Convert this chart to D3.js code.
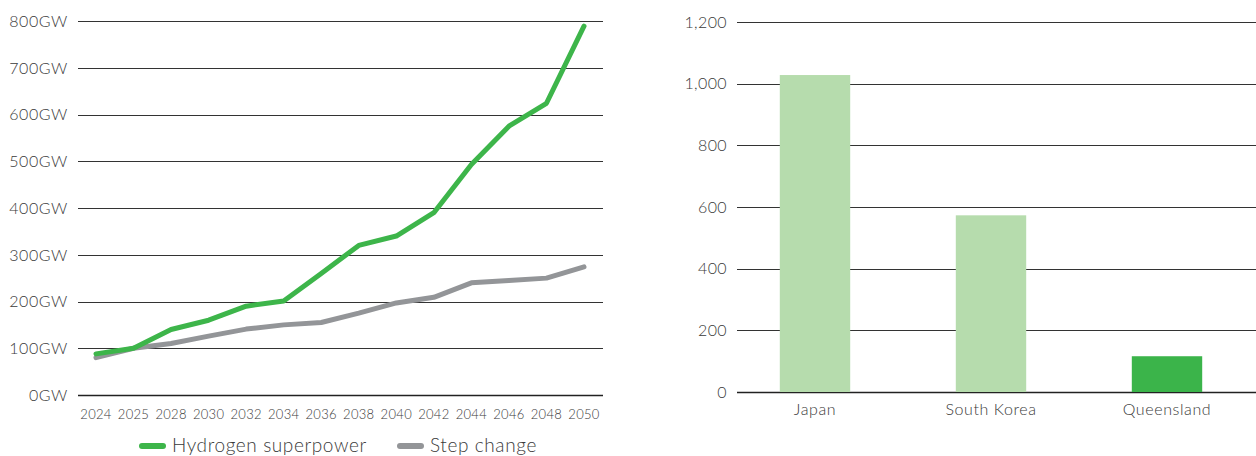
<!DOCTYPE html>
<html><head><meta charset="utf-8">
<script src="https://cdn.jsdelivr.net/npm/d3@7"></script>
<style>body{margin:0;background:#fff;}svg{display:block;font-family:Lato,"Open Sans",sans-serif;font-weight:300;}</style>
</head><body>
<svg id="c" width="1256" height="456"></svg>
<script>
const years = ["2024","2025","2028","2030","2032","2034","2036","2038","2040","2042","2044","2046","2048","2050"];
const hydrogen = [88,100,140,160,190,201,260,320,340,390,493,575,624,789];
const stepChange = [80,100,110,126,141,150,155,175,197,209,240,245,250,274];
const lineTicks = [0,100,200,300,400,500,600,700,800];
const seriesNames = ["Hydrogen superpower","Step change"];
const seriesColors = ["#3db54a","#939598"];

const countries = ["Japan","South Korea","Queensland"];
const countryValues = [1028,573,116];
const barColors = ["#b6dcad","#b6dcad","#3bb44a"];
const barTicks = [0,200,400,600,800,1000,1200];

const svg = d3.select("#c");
const textCol = "#3a3a3a";

// ---- Left line chart ----
const L = {x0:78, x1:603, y0:395, y1:21};
const yL = d3.scaleLinear().domain([0,800]).range([L.y0,L.y1]);
const xL = d3.scalePoint().domain(years).range([96,584]);
const gl = svg.append("g");
gl.selectAll("line.grid").data(lineTicks).join("line")
  .attr("x1",L.x0).attr("x2",L.x1)
  .attr("y1",d=>Math.round(yL(d))+0.5).attr("y2",d=>Math.round(yL(d))+0.5)
  .attr("stroke",d=>d===0?"#222":"#333").attr("stroke-width",d=>d===0?1.6:1);
gl.selectAll("text.yl").data(lineTicks).join("text")
  .attr("x",68).attr("y",d=>yL(d)).attr("dy","0.36em").attr("text-anchor","end")
  .attr("font-size",16).attr("letter-spacing",0.6).attr("fill",textCol).text(d=>d+"GW");
gl.selectAll("text.xl").data(years).join("text")
  .attr("x",d=>xL(d)).attr("y",414).attr("dy","0.36em").attr("text-anchor","middle")
  .attr("font-size",13).attr("letter-spacing",0.3).attr("fill",textCol).text(d=>d);
const line = d3.line().x((d,i)=>xL(years[i])).y(d=>yL(d));
[stepChange, hydrogen].forEach((s,k)=>{
  gl.append("path").attr("d",line(s)).attr("fill","none")
    .attr("stroke", k===1?seriesColors[0]:seriesColors[1]).attr("stroke-width",5)
    .attr("stroke-linejoin","round").attr("stroke-linecap","round");
});
// legend
const legX = [140,398];
seriesNames.forEach((n,i)=>{
  gl.append("line").attr("x1",legX[i]+2).attr("x2",legX[i]+23).attr("y1",446).attr("y2",446)
    .attr("stroke",seriesColors[i]).attr("stroke-width",6).attr("stroke-linecap","round");
  gl.append("text").attr("x",legX[i]+32).attr("y",446).attr("dy","0.34em")
    .attr("font-size",19).attr("letter-spacing",0.6).attr("fill",textCol).text(n);
});

// ---- Right bar chart ----
const R = {x0:737, x1:1256, y0:392, y1:22};
const yR = d3.scaleLinear().domain([0,1200]).range([R.y0,R.y1]);
const xR = d3.scaleBand().domain(countries).range([727,1255]).paddingInner(0.6).paddingOuter(0.3);
const gr = svg.append("g");
gr.selectAll("line.grid").data(barTicks).join("line")
  .attr("x1",R.x0).attr("x2",R.x1)
  .attr("y1",d=>Math.round(yR(d))+0.5).attr("y2",d=>Math.round(yR(d))+0.5)
  .attr("stroke",d=>d===0?"#222":"#333").attr("stroke-width",d=>d===0?1.6:1);
gr.selectAll("rect").data(countries).join("rect")
  .attr("x",d=>xR(d)).attr("width",xR.bandwidth())
  .attr("y",(d,i)=>yR(countryValues[i])).attr("height",(d,i)=>yR(0)-yR(countryValues[i]))
  .attr("fill",(d,i)=>barColors[i]);
gr.selectAll("text.yl").data(barTicks).join("text")
  .attr("x",727).attr("y",d=>yR(d)).attr("dy","0.36em").attr("text-anchor","end")
  .attr("font-size",16).attr("letter-spacing",0.4).attr("fill",textCol).text(d=>d3.format(",")(d));
gr.selectAll("text.xl").data(countries).join("text")
  .attr("x",d=>xR(d)+xR.bandwidth()/2).attr("y",409).attr("dy","0.36em").attr("text-anchor","middle")
  .attr("font-size",16).attr("letter-spacing",0.6).attr("fill",textCol).text(d=>d);
</script>
</body></html>
